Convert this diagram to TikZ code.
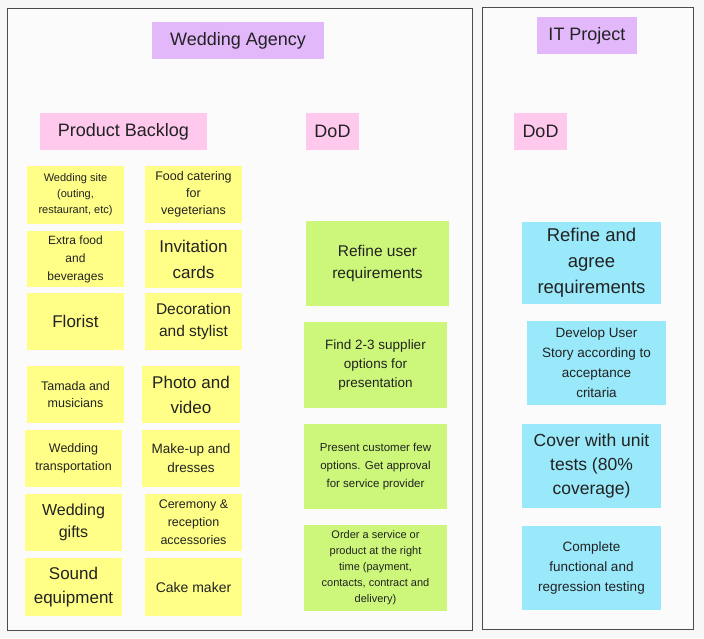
\documentclass[tikz,border=0pt]{standalone}
\usepackage{fontspec}
\setmainfont{Liberation Sans}
\definecolor{bg}{HTML}{F7F7F7}
\definecolor{yel}{HTML}{FFFF88}
\definecolor{grn}{HTML}{CCF77A}
\definecolor{blu}{HTML}{99E9FA}
\definecolor{pnk}{HTML}{FFC9EE}
\definecolor{pur}{HTML}{E3B8FA}
\definecolor{txt}{HTML}{222222}
\newcommand{\nb}[9]{%
  \pgfmathsetmacro\nbw{#4-#2}%
  \pgfmathsetmacro\nbh{#5-#3}%
  \node[inner sep=1pt, fill=#6, text=txt, align=center,
        minimum width=\nbw pt, minimum height=\nbh pt,
        font=\fontsize{#7}{#8}\selectfont] (#1) at ({(#2+#4)/2},{-(#3+#5)/2}) {#9};}
\begin{document}
\begin{tikzpicture}[x=1pt,y=1pt]
\useasboundingbox (0,0) rectangle (704,-638);
\fill[bg] (0,0) rectangle (704,-638);
\draw[draw=black!70, fill=white!50!bg] (7,-8) rectangle (472,-630);
\draw[draw=black!70, fill=white!50!bg] (482,-7) rectangle (693,-629);
\nb{wa}{152}{22}{324}{59}{pur}{18}{20}{Wedding Agency}
\nb{it}{537}{17}{637}{54}{pur}{18}{20}{IT Project}
\nb{pb}{40}{113}{207}{150}{pnk}{18}{20}{Product Backlog}
\nb{dodl}{306}{113}{359}{150}{pnk}{18}{20}{DoD}
\nb{dodr}{514}{113}{567}{150}{pnk}{18}{20}{DoD}
% column 1
\nb{a1}{27}{166}{124}{224}{yel}{11}{16}{Wedding site\\(outing,\\restaurant, etc)}
\nb{a2}{27}{231}{124}{287}{yel}{12}{18}{Extra food\\and\\beverages}
\nb{a3}{27}{293}{124}{350}{yel}{17}{20}{Florist}
\nb{a4}{27}{366}{124}{423}{yel}{12.5}{17}{Tamada and\\musicians}
\nb{a5}{25}{430}{122}{487}{yel}{12.5}{18}{Wedding\\transportation}
\nb{a6}{25}{494}{122}{551}{yel}{16}{22}{Wedding\\gifts}
\nb{a7}{25}{558}{122}{616}{yel}{17}{24}{Sound\\equipment}
% column 2
\nb{b1}{145}{166}{242}{223}{yel}{12.5}{17}{Food catering\\for\\vegeterians}
\nb{b2}{145}{230}{242}{288}{yel}{17}{26}{Invitation\\cards}
\nb{b3}{145}{293}{242}{350}{yel}{15.5}{22}{Decoration\\and stylist}
\nb{b4}{142}{366}{240}{423}{yel}{17}{25}{Photo and\\video}
\nb{b5}{142}{430}{240}{487}{yel}{13.5}{19}{Make-up and\\dresses}
\nb{b6}{145}{494}{242}{551}{yel}{12.5}{18}{Ceremony \&\\reception\\accessories}
\nb{b7}{145}{558}{242}{616}{yel}{14}{18}{Cake maker}
% green
\nb{g1}{306}{221}{449}{306}{grn}{15.5}{22}{Refine user\\requirements}
\nb{g2}{304}{322}{447}{408}{grn}{13.5}{19}{Find 2-3 supplier\\options for\\presentation}
\nb{g3}{304}{424}{447}{509}{grn}{11.5}{18}{Present customer few\\options. Get approval\\for service provider}
\nb{g4}{304}{525}{447}{611}{grn}{11}{16}{Order a service or\\product at the right\\time (payment,\\contacts, contract and\\delivery)}
% blue
\nb{c1}{522}{222}{661}{304}{blu}{18.5}{26}{Refine and\\agree\\requirements}
\nb{c2}{527}{321}{666}{405}{blu}{13.5}{20}{Develop User\\Story according to\\acceptance\\critaria}
\nb{c3}{522}{424}{661}{508}{blu}{17.5}{24}{Cover with unit\\tests (80\%\\coverage)}
\nb{c4}{522}{526}{661}{610}{blu}{13.5}{20}{Complete\\functional and\\regression testing}
\end{tikzpicture}
\end{document}
